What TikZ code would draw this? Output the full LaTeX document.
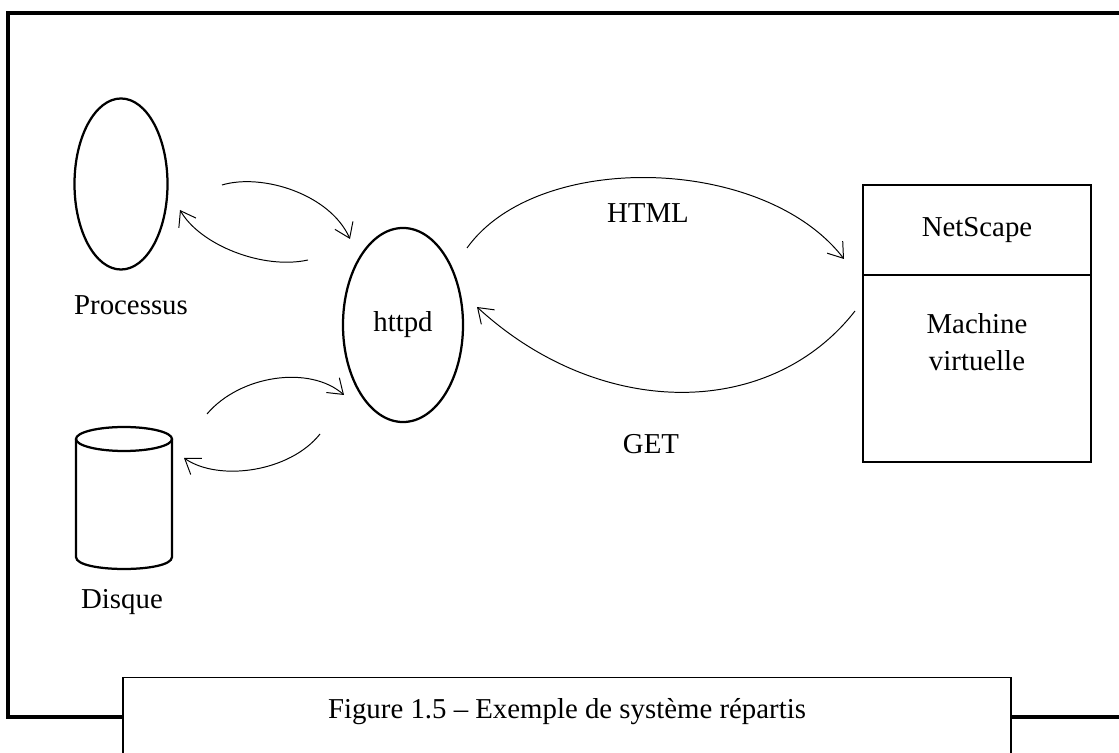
\documentclass[tikz,border=0pt]{standalone}
\usepackage{fontspec}
\setmainfont{Liberation Serif}
\usetikzlibrary{shapes.geometric,arrows.meta,positioning}

\tikzset{
	lbl/.style={font=\fontsize{20.5}{24}\selectfont, inner sep=0pt},
	blob/.style={draw, ellipse, line width=1.6pt, inner sep=0pt, font=\fontsize{20.5}{24}\selectfont},
	casebox/.style={draw, rectangle, line width=2pt, minimum width=5.7cm, inner sep=0pt, outer sep=0pt,
		font=\fontsize{20.5}{24}\selectfont},
	flow/.style={line width=0.7pt, -{Straight Barb[length=10pt,width=14pt]}}
}

\begin{document}
\begin{tikzpicture}[x=0.025cm,y=-0.025cm]
		\useasboundingbox (0,0) rectangle (1119,753);
		\clip (0,0) rectangle (1119,753);
		% cadre
		\draw[line width=2.2pt] (8,13) rectangle (1140,717);

		\node[blob, minimum width=2.325cm, minimum height=4.275cm] (proc) at (121,184) {};
		\node[lbl] (proclbl) at (131,305) {Processus};
		\node[blob, minimum width=3cm, minimum height=4.85cm] (httpd) at (403,325) {httpd};

		% disque
		\coordinate (disk) at (124,497);
		\draw[line width=1.6pt] (124,439) ellipse [x radius=48, y radius=12];
		\draw[line width=1.6pt] (76,439) -- (76,557) .. controls (76,573) and (172,573) .. (172,557) -- (172,439);
		\node[lbl] (disklbl) at (122,602) {Disque};

		\node[casebox, minimum height=2.25cm] (ns) at (977,230) {NetScape};
		\node[casebox, minimum height=4.675cm, anchor=north] (vm) at (ns.south) {};
		\node[lbl, align=center] (vmlbl) at (977,342) {Machine\\[2pt]virtuelle};

		% bouts des fleches
		\coordinate (p1) at (222,185);
		\coordinate (h1) at (350,239);
		\coordinate (h2) at (308,260);
		\coordinate (p2) at (180,210);
		\coordinate (d1) at (207,414);
		\coordinate (h3) at (344,395);
		\coordinate (h4) at (320,434);
		\coordinate (d2) at (184,458);
		\coordinate (h5) at (467,248);
		\coordinate (n1) at (844,259);
		\coordinate (n2) at (855,311);
		\coordinate (h6) at (477,307);

		\draw[flow] (p1) .. controls (262,173) and (330,194) .. (h1);
		\draw[flow] (h2) .. controls (263,270) and (200,245) .. (p2);
		\draw[flow] (d1) .. controls (240,375) and (310,365) .. (h3);
		\draw[flow] (h4) .. controls (290,472) and (219,482) .. (d2);
		\draw[flow] (h5) .. controls (537,150) and (764,155) .. (n1);
		\draw[flow] (n2) .. controls (770,420) and (600,420) .. (h6);
		\node[lbl] (html) at (648,213) {HTML};
		\node[lbl] (get) at (651,444) {GET};

		% legende
		\node[draw, fill=white, line width=1pt, minimum width=22.2cm, minimum height=2.5cm,
			anchor=north] (cap) at (567,677) {};
		\node[lbl] (captxt) at (567,712) {Figure 1.5 -- Exemple de système répartis};
\end{tikzpicture}
\end{document}
